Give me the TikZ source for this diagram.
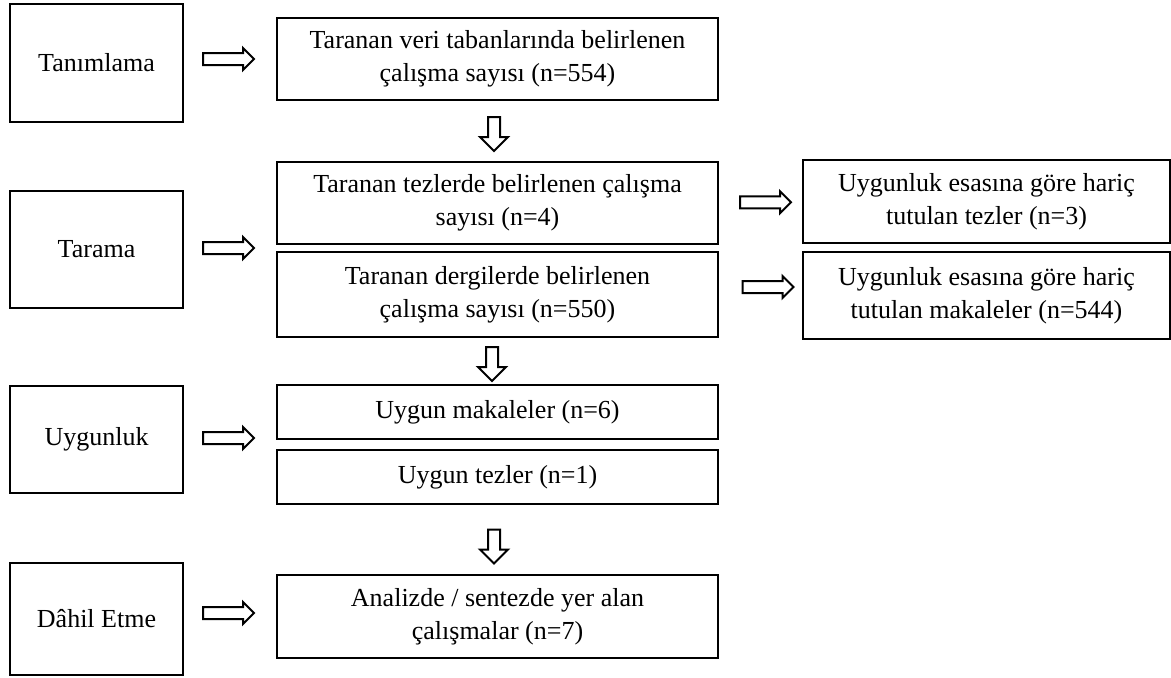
\documentclass[tikz,border=0pt]{standalone}
\usepackage{fontspec}
\setmainfont{Liberation Serif}
\usetikzlibrary{shapes.arrows,calc}

\tikzset{
  kutu/.style={draw, line width=1pt, align=center, inner sep=0pt,
    font=\fontsize{13pt}{16.5pt}\selectfont},
  okyatay/.style={single arrow, draw, line width=1pt, fill=white, inner xsep=0pt, inner ysep=2.5pt,
    minimum height=25.5pt, minimum width=1pt, single arrow head extend=2.5pt},
  okdikey/.style={single arrow, draw, line width=1pt, fill=white, inner xsep=2.5pt, inner ysep=0pt,
    minimum height=17pt, minimum width=1pt, single arrow head extend=4pt,
    shape border rotate=270}
}

\begin{document}
\begin{tikzpicture}[x=0.5pt, y=-0.5pt]
			\useasboundingbox (0,0) rectangle (1171,677);
			% asamalar
			\node[kutu, minimum width=86.5pt, minimum height=59pt] (tanim) at (96.5,63) {Tanımlama};
			\node[kutu, minimum width=86.5pt, minimum height=58.5pt] (tarama) at (96.5,249.5) {Tarama};
			\node[kutu, minimum width=86.5pt, minimum height=53.5pt] (uygunluk) at (96.5,439.5) {Uygunluk};
			\node[kutu, minimum width=86.5pt, minimum height=56pt] (dahil) at (96.5,619) {Dâhil Etme};
			
			% orta sutun
			\node[kutu, minimum width=220.5pt, minimum height=41pt] (veri) at (497.5,59) {Taranan veri tabanlarında belirlenen\\çalışma sayısı (n=554)};
			\node[kutu, minimum width=220.5pt, minimum height=41pt] (tez) at (497.5,203) {Taranan tezlerde belirlenen çalışma\\sayısı (n=4)};
			\node[kutu, minimum width=220.5pt, minimum height=42.5pt] (dergi) at (497.5,294.5) {Taranan dergilerde belirlenen\\çalışma sayısı (n=550)};
			\node[kutu, minimum width=220.5pt, minimum height=27pt] (makale) at (497.5,412) {Uygun makaleler (n=6)};
			\node[kutu, minimum width=220.5pt, minimum height=27pt] (uygtez) at (497.5,477) {Uygun tezler (n=1)};
			\node[kutu, minimum width=220.5pt, minimum height=41.5pt] (analiz) at (497.5,616.5) {Analizde / sentezde yer alan\\çalışmalar (n=7)};
			
			% haric tutulanlar
			\node[kutu, minimum width=183.5pt, minimum height=41.5pt] (haric1) at (986.5,201.5) {Uygunluk esasına göre hariç\\tutulan tezler (n=3)};
			\node[kutu, minimum width=183.5pt, minimum height=43.5pt] (haric2) at (986.5,295.5) {Uygunluk esasına göre hariç\\tutulan makaleler (n=544)};
			
			% oklar
			\node[okyatay] (o1) at ($(tanim.east)!0.5!(veri.west)+(-4.5,-2)$) {};
			\node[okyatay] (o2) at ($(tarama.east)!0.5!(tarama.east-|veri.west)+(-4.5,-1.5)$) {};
			\node[okyatay] (o3) at ($(uygunluk.east)!0.5!(uygunluk.east-|makale.west)+(-4.5,-1.5)$) {};
			\node[okyatay] (o4) at ($(dahil.east)!0.5!(dahil.east-|analiz.west)+(-4.5,-6)$) {};
			\node[okyatay] (o5) at ($(tez.east)!0.5!(haric1.west)+(2,0)$) {};
			\node[okyatay] (o6) at ($(dergi.east)!0.5!(haric2.west)+(4.5,-8)$) {};
			\node[okdikey] (a1) at ($(veri.south)!0.5!(tez.north)+(-3.5,0)$) {};
			\node[okdikey] (a2) at ($(dergi.south)!0.5!(makale.north)+(-5.5,0)$) {};
			\node[okdikey] (a3) at ($(uygtez.south)!0.5!(analiz.north)+(-3.5,4)$) {};
		\end{tikzpicture}
\end{document}
